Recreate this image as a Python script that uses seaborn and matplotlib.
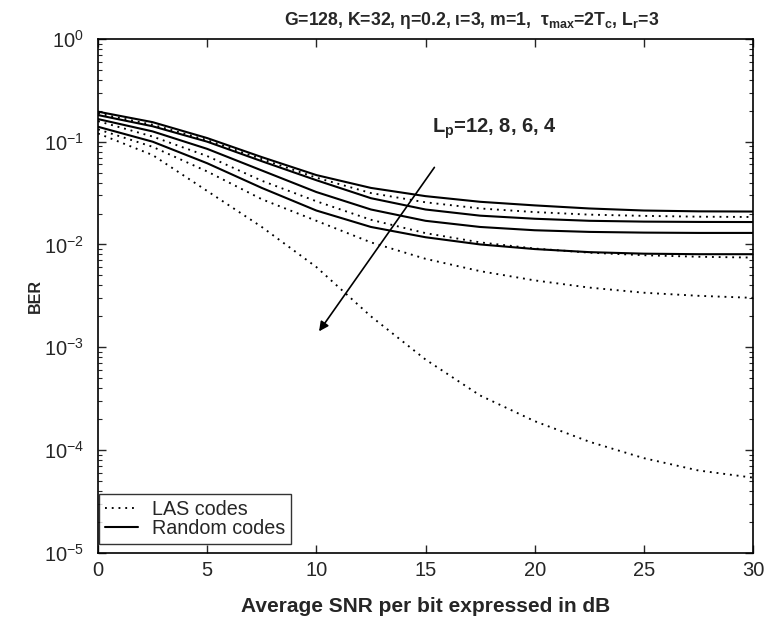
import numpy as np
import pandas as pd
import matplotlib
matplotlib.use("Agg")
import matplotlib.pyplot as plt
import seaborn as sns
from matplotlib.lines import Line2D
from matplotlib.ticker import LogLocator, NullFormatter

# ---- data (log10 BER) ----
snr = [0, 2.5, 5, 7.5, 10, 12.5, 15, 17.5, 20, 22.5, 25, 27.5, 30]
lp_values = [12, 8, 6, 4]

random_log = {
    "r1": [-0.708, -0.81, -0.965, -1.15, -1.325, -1.45, -1.53, -1.585, -1.62, -1.65, -1.67, -1.678, -1.68],
    "r2": [-0.741, -0.85, -1.0, -1.19, -1.375, -1.55, -1.66, -1.72, -1.75, -1.77, -1.778, -1.781, -1.782],
    "r3": [-0.78, -0.9, -1.07, -1.28, -1.49, -1.66, -1.77, -1.83, -1.862, -1.878, -1.885, -1.888, -1.888],
    "r4": [-0.855, -1.0, -1.21, -1.45, -1.67, -1.83, -1.93, -2.0, -2.045, -2.075, -2.09, -2.095, -2.095],
}
las_log = {
    "l1": [-0.725, -0.835, -0.985, -1.17, -1.35, -1.50, -1.59, -1.65, -1.685, -1.71, -1.722, -1.73, -1.733],
    "l2": [-0.80, -0.95, -1.14, -1.38, -1.58, -1.76, -1.89, -1.98, -2.04, -2.08, -2.105, -2.12, -2.128],
    "l3": [-0.88, -1.05, -1.29, -1.56, -1.77, -1.98, -2.14, -2.26, -2.35, -2.42, -2.47, -2.50, -2.52],
    "l4": [-0.92, -1.13, -1.48, -1.83, -2.22, -2.70, -3.12, -3.47, -3.72, -3.92, -4.08, -4.20, -4.27],
}

title = "G=128, K=32, η=0.2, ι=3, m=1,  τ$_{\\mathbf{max}}$=2T$_{\\mathbf{c}}$, L$_{\\mathbf{r}}$=3"
xlabel = "Average SNR per bit expressed in dB"
ylabel = "BER"
legend_labels = ["LAS codes", "Random codes"]
annot = "L$_{\\mathbf{p}}$=12, 8, 6, 4"

rows = []
for k, v in las_log.items():
    for x, y in zip(snr, v):
        rows.append({"snr": x, "ber": 10 ** y, "code": "LAS codes", "curve": k})
for k, v in random_log.items():
    for x, y in zip(snr, v):
        rows.append({"snr": x, "ber": 10 ** y, "code": "Random codes", "curve": k})
df = pd.DataFrame(rows)

sns.set_style("ticks")
plt.rcParams["font.family"] = ["Liberation Sans", "DejaVu Sans"]
plt.rcParams["mathtext.fontset"] = "custom"
plt.rcParams["mathtext.rm"] = "Liberation Sans"
plt.rcParams["mathtext.bf"] = "Liberation Sans:bold"
plt.rcParams["mathtext.it"] = "Liberation Sans:italic"

fig = plt.figure(figsize=(7.66, 6.18), dpi=100)
ax = fig.add_axes([0.128, 0.1057, 0.855, 0.8313])

DOT = (1, 2.6)
for code, lw in [("LAS codes", 1.35), ("Random codes", 1.5)]:
    sub = df[df["code"] == code]
    sns.lineplot(data=sub, x="snr", y="ber", units="curve", estimator=None,
                 color="black", linewidth=lw, legend=False, ax=ax)
for line in ax.get_lines()[:4]:
    line.set_dashes(DOT)

ax.set_yscale("log")
ax.set_xlim(0, 30)
ax.set_ylim(1e-5, 1)
ax.set_xticks([0, 5, 10, 15, 20, 25, 30])
ax.yaxis.set_major_locator(LogLocator(base=10, numticks=10))
ax.yaxis.set_minor_locator(LogLocator(base=10, subs=np.arange(2, 10), numticks=20))
ax.yaxis.set_minor_formatter(NullFormatter())
ax.tick_params(which="both", direction="in", top=True, right=True, labelsize=14.5)
ax.tick_params(which="major", length=6, width=1, pad=6)
ax.tick_params(axis="y", which="major", pad=10)
ax.tick_params(which="minor", length=3, width=0.8)
for s in ax.spines.values():
    s.set_linewidth(1.2)
    s.set_color("black")

ax.set_xlabel(xlabel, fontsize=15, fontweight="bold", labelpad=12)
ax.set_ylabel(ylabel, fontsize=11.5, fontweight="bold", labelpad=1)
ax.set_title(title, fontsize=12.7, fontweight="bold", pad=10, x=0.571)

ax.annotate("", xy=(10.05, 10 ** -2.868), xytext=(15.48, 10 ** -1.228),
            arrowprops=dict(arrowstyle="-|>", color="black", lw=1.2,
                            mutation_scale=14))
ax.text(15.3, 10 ** -0.87, annot, fontsize=14.5,
        fontweight="bold", ha="left", va="center")

handles = [Line2D([0], [0], color="black", lw=1.35, dashes=DOT),
           Line2D([0], [0], color="black", lw=1.5)]
leg = ax.legend(handles, legend_labels, loc="lower left", fontsize=14.2,
                frameon=True, fancybox=False, edgecolor="black",
                bbox_to_anchor=(0.0015, 0.017), borderaxespad=0,
                handlelength=1.7, handletextpad=0.7, borderpad=0.3,
                labelspacing=0.0)
leg.get_frame().set_linewidth(1.0)

fig.savefig("out.png", dpi=100)
